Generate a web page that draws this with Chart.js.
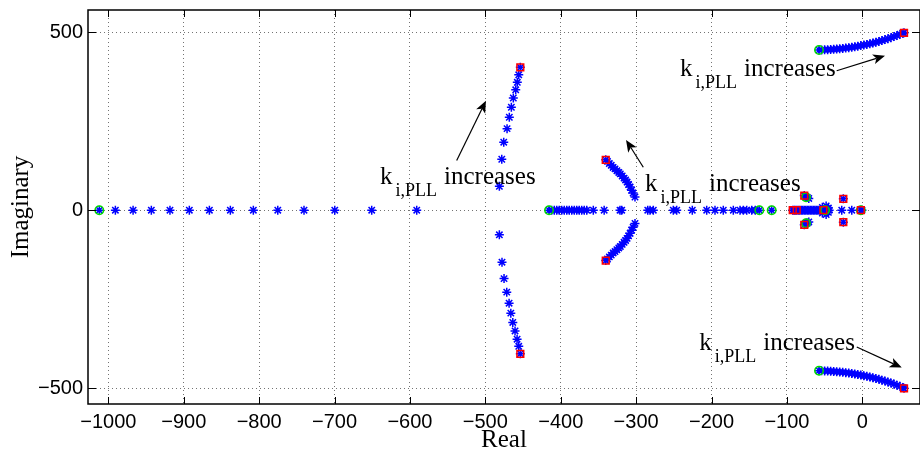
<!DOCTYPE html>
<html lang="en">
<head>
    <meta charset="UTF-8">
    <title>Root locus - k_i,PLL</title>
    <style>
        html, body { margin: 0; padding: 0; background: #fff; }
    </style>
</head>
<body>
    <canvas id="locus" width="920" height="455"></canvas>

    <script src="https://cdn.jsdelivr.net/npm/chart.js"></script>
    <script>
        // tick values
        const xTicks = [-1000, -900, -800, -700, -600, -500, -400, -300, -200, -100, 0];
        const yTicks = [-500, 0, 500];

        // far left branch, on the real axis
        const farRe = [-1012, -990.7, -967.2, -943, -918.3, -892.6, -866, -838.2, -807.7, -775.3, -740.5, -699.7, -650.7, -591];

        // branch around -460 going up / down
        const armUpRe = [-481.4, -478.2, -475.6, -471.2, -468.2, -465.5, -462.9, -459.7, -457.6, -455.7, -453.6];
        const armUpIm = [67, 143, 191, 229, 261, 289, 315, 338, 359, 380, 401];
        const armDnRe = [-481.4, -477.9, -475.2, -471.6, -468.5, -466.2, -463.6, -460.6, -457.9, -455.7, -453.6];
        const armDnIm = [-69, -146, -192, -230, -261, -289, -315, -339, -362, -382, -403];

        // real axis branch between -415 and -120
        const midRe = [-415.5, -412, -408.5, -405.3, -402, -398.7, -395.3, -392, -388.7, -385.4, -382, -378.8,
            -375.5, -372.2, -368.8, -365.5, -356.8, -342.4, -321.4, -319.1, -284.6, -281.6, -277.2, -250.7,
            -246.2, -225.5, -206.4, -195.4, -184.4, -171.1, -162.2, -157.8, -153.3, -146.7, -142, -136.6, -120.2];

        // pair bending in around -300
        const bendUpRe = [-340.3, -338, -335.5, -333, -330.5, -328, -325.5, -323, -321, -318.5, -316, -314, -312, -310, -308, -306, -304, -301.5];
        const bendUpIm = [141.3, 137, 131, 126, 120, 116, 111, 106, 102, 96, 90, 85, 79, 72, 65, 56, 48, 37];
        const bendDnRe = [-340.3, -338, -335.5, -333, -330.5, -328, -325.5, -323, -321, -318.5, -316, -314, -312, -310, -308, -306, -304, -301.5];
        const bendDnIm = [-141.3, -137, -131, -126, -120, -116, -111, -106, -102, -96, -90, -85, -79, -72, -65, -56, -48, -37];

        // cluster near the origin
        const nearRe = [-92.3, -90.5, -89, -87, -85, -83, -81, -79, -77, -75, -73, -71, -69, -67, -65, -63, -61, -59, -57, -55, -53, -51.7, -49.5, -47, -44,
            -53, -53, -48, -48, -45, -45, -27.3, -14, -2, -0.5,
            -77, -75, -73, -71, -74.7, -77, -75, -73, -71, -74.7, -25.2, -25.2];
        const nearIm = [0, 0, 0, 0, 0, 0, 0, 0, 0, 0, 0, 0, 0, 0, 0, 0, 0, 0, 0, 0, 0, 0, 0, 0, 0,
            8, -8, 12, -12, 6, -6, 0, 0, 0, 0,
            41, 38, 36, 33, 36.5, -41, -38, -36, -33, -36.5, 32, -33.6];

        // branches crossing into the right half plane
        const rightRe = [-57.4, -54, -50, -46, -42, -38, -34, -30, -26, -22, -18, -14, -10, -6, -2, 2, 6, 10, 14, 18, 22, 26, 30, 34, 38, 42, 46, 50, 54, 55.3];
        const rightUpIm = [449.7, 450, 450.3, 450.7, 451.2, 451.8, 452.5, 453.3, 454.2, 455.2, 456.3, 457.5, 458.9, 460.4, 462, 463.7, 465.5, 467.4, 469.4, 471.6, 473.9, 476.3, 478.9, 481.6, 484.4, 487.4, 490.5, 493.7, 497, 498];
        const rightDnIm = [-450.5, -450.8, -451.1, -451.5, -452, -452.6, -453.3, -454.1, -455, -456, -457.1, -458.3, -459.7, -461.2, -462.8, -464.5, -466.3, -468.2, -470.2, -472.4, -474.7, -477.1, -479.7, -482.4, -485.2, -488.2, -491.3, -494.5, -498, -500];

        // start (green o) and end (red square) points
        const startRe = [-1012, -415.5, -136.6, -120.2, -74.7, -74.7, -49.5, -2, -57.4, -57.4];
        const startIm = [0, 0, 0, 0, 36.5, -36.5, 0, 0, 449.7, -450.5];
        const endRe = [-453.6, -453.6, -340.3, -340.3, -92.3, -87, -77, -77, -51.7, -25.2, -25.2, -2, 55.3, 55.3];
        const endIm = [401, -403, 141.3, -141.3, 0, 0, 41, -41, 0, 32, -33.6, 0, 498, -500];

        const zip = (re, im) => re.map((r, i) => ({ x: r, y: im[i] }));
        const onAxis = re => re.map(r => ({ x: r, y: 0 }));

        const locus = [].concat(
            onAxis(farRe),
            zip(armUpRe, armUpIm), zip(armDnRe, armDnIm),
            onAxis(midRe),
            zip(bendUpRe, bendUpIm), zip(bendDnRe, bendDnIm),
            zip(nearRe, nearIm),
            zip(rightRe, rightUpIm), zip(rightRe, rightDnIm)
        );

        // text + arrow annotations (data coordinates)
        const notes = [
            { x: -639.7, y: 74, from: [-538, 139.3], to: [-499.2, 307.5] },
            { x: -288.2, y: 55.2, from: [-290.5, 120.5], to: [-313.4, 197.4] },
            { x: -241.8, y: 377.6, from: [-34, 391.6], to: [30.1, 433.7] },
            { x: -216.2, y: -393.3, from: [-7.4, -384.1], to: [52.3, -441.8] }
        ];

        const fmt = v => (v < 0 ? '\u2212' + Math.abs(v) : String(v));
        const tickFont = { family: 'Liberation Sans', size: 20 };
        const serif = 'Liberation Serif';

        // box, inward ticks and the annotations
        const framePlugin = {
            id: 'frame',
            afterDraw(chart) {
                const ctx = chart.ctx;
                const { left, right, top, bottom } = chart.chartArea;
                const xs = chart.scales.x, ys = chart.scales.y;
                ctx.save();
                ctx.strokeStyle = '#000';
                ctx.lineWidth = 1.5;
                ctx.strokeRect(left, top, right - left, bottom - top);
                ctx.lineWidth = 1;
                ctx.beginPath();
                xTicks.forEach(v => {
                    const p = Math.round(xs.getPixelForValue(v)) + 0.5;
                    ctx.moveTo(p, top); ctx.lineTo(p, top + 7);
                    ctx.moveTo(p, bottom); ctx.lineTo(p, bottom - 7);
                });
                yTicks.forEach(v => {
                    const p = Math.round(ys.getPixelForValue(v)) + 0.5;
                    ctx.moveTo(left, p); ctx.lineTo(left + 8, p);
                    ctx.moveTo(right, p); ctx.lineTo(right - 8, p);
                });
                ctx.stroke();

                ctx.fillStyle = '#000';
                ctx.textBaseline = 'alphabetic';
                notes.forEach(n => {
                    const x0 = xs.getPixelForValue(n.x);
                    const y0 = ys.getPixelForValue(n.y);
                    ctx.font = '25px "' + serif + '"';
                    ctx.fillText('k', x0, y0);
                    const kw = ctx.measureText('k').width;
                    ctx.font = '18px "' + serif + '"';
                    ctx.fillText('i,PLL', x0 + kw + 3, y0 + 12);
                    const sw = ctx.measureText('i,PLL').width;
                    ctx.font = '25px "' + serif + '"';
                    ctx.fillText('increases', x0 + kw + sw + 10, y0);

                    // arrow
                    const ax = xs.getPixelForValue(n.from[0]), ay = ys.getPixelForValue(n.from[1]);
                    const bx = xs.getPixelForValue(n.to[0]), by = ys.getPixelForValue(n.to[1]);
                    const ang = Math.atan2(by - ay, bx - ax);
                    const hl = 12, hw = 5;
                    const cx = bx - Math.cos(ang) * hl * 0.75, cy = by - Math.sin(ang) * hl * 0.75;
                    ctx.lineWidth = 1.2;
                    ctx.beginPath();
                    ctx.moveTo(ax, ay);
                    ctx.lineTo(cx, cy);
                    ctx.stroke();
                    ctx.beginPath();
                    ctx.moveTo(bx, by);
                    ctx.lineTo(bx - Math.cos(ang) * hl - Math.sin(ang) * hw, by - Math.sin(ang) * hl + Math.cos(ang) * hw);
                    ctx.lineTo(cx, cy);
                    ctx.lineTo(bx - Math.cos(ang) * hl + Math.sin(ang) * hw, by - Math.sin(ang) * hl - Math.cos(ang) * hw);
                    ctx.closePath();
                    ctx.fill();
                });
                ctx.restore();
            }
        };

        new Chart(document.getElementById('locus'), {
            type: 'scatter',
            data: {
                datasets: [
                    {
                        label: 'end',
                        data: zip(endRe, endIm),
                        pointStyle: 'rect',
                        pointRadius: 4.8,
                        borderColor: 'rgb(255,0,0)',
                        backgroundColor: 'rgba(0,0,0,0)',
                        borderWidth: 1.5
                    },
                    {
                        label: 'start',
                        data: zip(startRe, startIm),
                        pointStyle: 'circle',
                        pointRadius: 4.2,
                        borderColor: 'rgb(0,220,0)',
                        backgroundColor: 'rgba(0,0,0,0)',
                        borderWidth: 1.6
                    },
                    {
                        label: 'locus',
                        data: locus,
                        pointStyle: 'star',
                        pointRadius: 4.5,
                        borderColor: 'rgb(0,0,255)',
                        backgroundColor: 'rgb(0,0,255)',
                        borderWidth: 1.5
                    }
                ]
            },
            options: {
                responsive: false,
                animation: false,
                events: [],
                layout: { autoPadding: false, padding: { top: 10, right: 0, bottom: 0, left: 0 } },
                plugins: {
                    legend: { display: false },
                    tooltip: { enabled: false }
                },
                scales: {
                    x: {
                        type: 'linear',
                        min: -1027,
                        max: 76.5,
                        afterBuildTicks: axis => { axis.ticks = xTicks.map(v => ({ value: v })); },
                        afterFit: axis => {
                            axis.height = 51;
                            axis.paddingLeft = 0;
                            axis.paddingRight = 0;
                        },
                        grid: { color: 'rgba(0,0,0,0.55)', lineWidth: 1, drawTicks: false },
                        border: { display: false, dash: [1, 3] },
                        ticks: { color: '#000', font: tickFont, padding: 6, maxRotation: 0, autoSkip: false, callback: fmt },
                        title: { display: true, text: 'Real', color: '#000', font: { family: serif, size: 25 }, padding: { top: 0, bottom: 0 } }
                    },
                    y: {
                        type: 'linear',
                        min: -544,
                        max: 562,
                        afterBuildTicks: axis => { axis.ticks = yTicks.map(v => ({ value: v })); },
                        afterFit: axis => {
                            axis.width = 88;
                            axis.paddingTop = 0;
                            axis.paddingBottom = 0;
                        },
                        grid: { color: 'rgba(0,0,0,0.55)', lineWidth: 1, drawTicks: false },
                        border: { display: false, dash: [1, 3] },
                        ticks: { color: '#000', font: tickFont, padding: 5, callback: fmt },
                        title: { display: true, text: 'Imaginary', color: '#000', font: { family: serif, size: 25 }, padding: { top: 6, bottom: 0 } }
                    }
                }
            },
            plugins: [framePlugin]
        });
    </script>
</body>
</html>
